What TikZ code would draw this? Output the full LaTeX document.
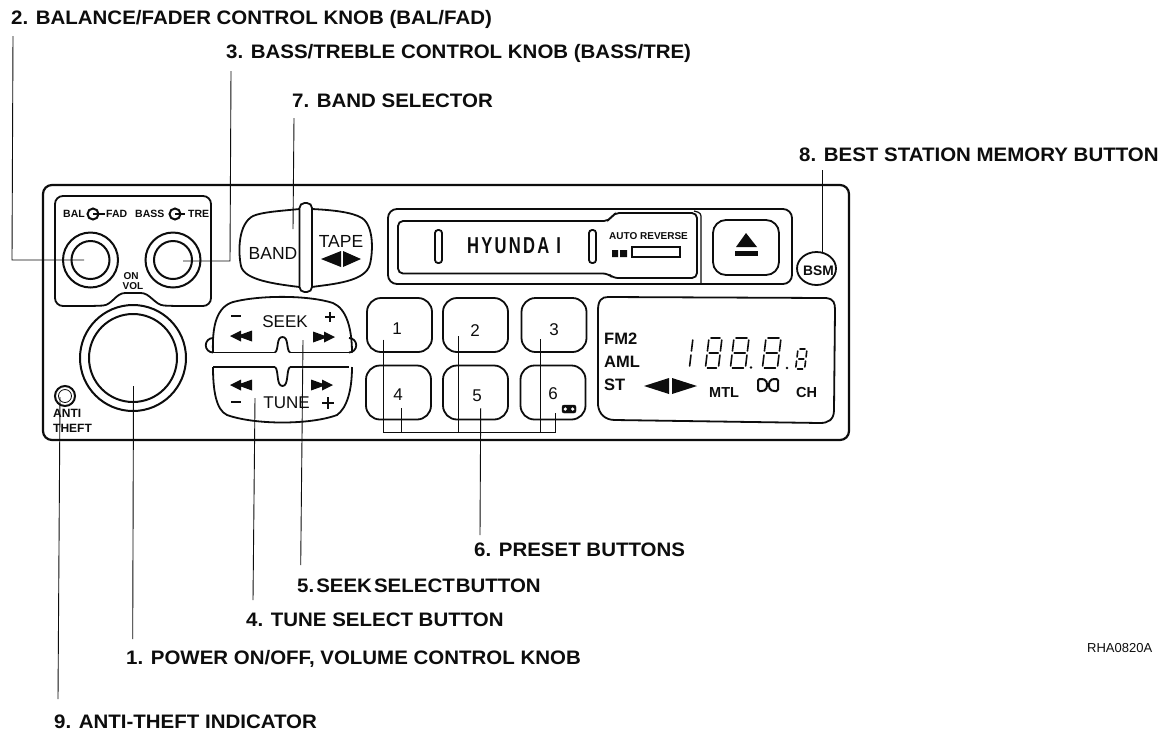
\documentclass[tikz,border=0pt]{standalone}
\usepackage{fontspec}
\setmainfont{Liberation Sans}
\newfontfamily\labfont[FakeStretch=1.05]{Liberation Sans}
\newfontfamily\hyfont[FakeStretch=0.72,LetterSpace=10]{Liberation Sans}
\usetikzlibrary{calc,shapes.geometric}
\definecolor{ink}{gray}{0.05}
\tikzset{
 lab/.style={anchor=base west,font=\labfont\bfseries\fontsize{19.5}{20}\selectfont,inner sep=0pt,text=ink},
 small/.style={inner sep=0pt,text=ink,font=\fontsize{#1}{#1}\selectfont},
 bsmall/.style={inner sep=0pt,text=ink,font=\bfseries\fontsize{#1}{#1}\selectfont},
 lead/.style={draw=ink,line width=0.9pt},
 lines/.style={draw=ink,line width=1.8pt},
 ring/.style={circle,draw=ink,line width=2pt,inner sep=0pt,minimum size=#1},
 seg/.style={draw=ink,line width=1.6pt,line cap=round},
}
% seven segment digit: top-left x, top y, width, height (slanted)
\newcommand{\digit}[4]{%
 \begin{scope}[shift={(#1,#2)},xslant=0.12]
  \draw[seg] (2,0)--(#3-2,0) (2,#4)--(#3-2,#4) (2,#4/2)--(#3-2,#4/2);
  \draw[seg] (0,2)--(0,#4/2-2) (#3,2)--(#3,#4/2-2) (0,#4/2+2)--(0,#4-2) (#3,#4/2+2)--(#3,#4-2);
 \end{scope}}
\newcommand{\arrowpair}[2]{\fill[ink] (#1,#2) -- ++(11,-5.5) -- ++(0,4) -- ++(11,-4) -- ++(0,11) -- ++(-11,-4) -- ++(0,4) -- cycle;}
\newcommand{\arrowpairR}[2]{\fill[ink] (#1,#2) -- ++(-11,-5.5) -- ++(0,4) -- ++(-11,-4) -- ++(0,11) -- ++(11,-4) -- ++(0,4) -- cycle;}
\begin{document}
\begin{tikzpicture}[x=1pt,y=-1pt]
\useasboundingbox (0,0) rectangle (1162,732);
\fill[white] (0,0) rectangle (1162,732);
% labels
\node[lab] (l2) at (11,24) {2. BALANCE/FADER CONTROL KNOB (BAL/FAD)};
\node[lab] (l3) at (226,58) {3. BASS/TREBLE CONTROL KNOB (BASS/TRE)};
\node[lab] (l7) at (292,107) {7. BAND SELECTOR};
\node[lab] (l8) at (799,161) {8. BEST STATION MEMORY BUTTON};
\node[lab] (l6) at (474,556) {6. PRESET BUTTONS};
\node[lab] (l5) at (297,592) {5.\hspace{2pt}SEEK\hspace{2pt}SELECT\hspace{1pt}BUTTON};
\node[lab] (l4) at (246,626) {4. TUNE SELECT BUTTON};
\node[lab] (l1) at (126,664) {1. POWER ON/OFF, VOLUME CONTROL KNOB};
\node[lab] (l9) at (54,728.5) {9. ANTI-THEFT INDICATOR};
\node[small=13,anchor=base west] (rha) at (1087,652) {RHA0820A};
% outer body
\draw[lines,line width=2.2pt,rounded corners=9pt] (43,185) rectangle (849,440);
% knob panel
\draw[lines,rounded corners=8pt] (55,196) -- (211,196) -- (211,306) -- (172,306) .. controls (155,305) and (150,293) .. (133,293) .. controls (116,293) and (112,305) .. (95,306) -- (55,306) -- cycle;
% knobs
\node[ring=55pt] (k2) at (90.5,260) {};
\node[ring=38pt] (k2i) at (90.5,260) {};
\node[ring=55pt] (k3) at (173,260) {};
\node[ring=38pt] (k3i) at (173,260) {};
\node[ring=106pt] (vol) at (133,358) {};
\node[ring=88pt] (voli) at (133,358) {};
\node[bsmall=10.5,anchor=west] (tbal) at (63,214) {BAL};
\node[ring=11pt] (c1) at (93,214) {};
\draw[ink,line width=1.6pt] (c1.center)--(105,214);
\node[bsmall=10.5,anchor=west] (tfad) at (106,214) {FAD};
\node[bsmall=10.5,anchor=west] (tbass) at (135,214) {BASS};
\node[ring=11pt] (c2) at (175,214) {};
\draw[ink,line width=1.6pt] (c2.center)--(185,214);
\node[bsmall=10.5,anchor=west] (ttre) at (188,214) {TRE};
\node[bsmall=10] (ton) at (131,276) {ON};
\node[bsmall=10] (tvol) at (133,286) {VOL};
% anti theft
\node[ring=20pt] (at) at (65,396) {};
\node[circle,draw=ink,line width=0.8pt,minimum size=13pt,inner sep=0pt] (ati) at (65,396) {};
\node[bsmall=12,anchor=west] (tanti) at (53,413) {ANTI};
\node[bsmall=12,anchor=west] (ttheft) at (53,428) {THEFT};
% band / tape
\draw[lines] (299.5,209) .. controls (280,211) and (262,212) .. (253,216) .. controls (238,224) and (238,252) .. (241,266) .. controls (244,280) and (275,284) .. (299.5,287);
\draw[lines] (312,209) .. controls (332,210) and (352,212) .. (362,218) .. controls (374,226) and (373,252) .. (370,264) .. controls (366,282) and (332,284) .. (312,287);
\draw[lines,rounded corners=5pt] (299.5,203) rectangle (312,292);
\node[small=17.5] (tband) at (273,253.7) {BAND};
\node[small=17.5] (ttape) at (341,241.5) {TAPE};
\fill[ink] (321,259) -- (341,251) -- (341,267) -- cycle (361,259) -- (343,251) -- (343,267) -- cycle;
% cassette
\draw[lines,rounded corners=9pt] (388,209) rectangle (792,284);
\draw[lines,rounded corners=5pt] (609,221) -- (398,221) -- (398,273.5) -- (608,273.5) -- (613,278) -- (697,278) -- (697,213) -- (614,213) -- cycle;
\draw[ink,line width=1.2pt,rounded corners=3pt] (694,211) -- (701,213) -- (701,284);
\draw[lines,rounded corners=3pt] (435,230) rectangle (442,263);
\draw[lines,rounded corners=3pt] (589,230) rectangle (596,263);
\node[inner sep=0pt,text=ink,font=\hyfont\bfseries\fontsize{23}{23}\selectfont] (thy) at (514,245.5) {HYUNDA I};
\node[bsmall=10,anchor=west] (tauto) at (609,236) {AUTO REVERSE};
\fill[ink] (612,250) rectangle (618,257) (620,250) rectangle (627,257);
\draw[ink,line width=1.4pt] (632,247) rectangle (680,257);
\draw[lines,rounded corners=13pt] (713,220) rectangle (779,275);
\fill[ink] (746,233) -- (757,247) -- (736,247) -- cycle;
\fill[ink] (735,251) rectangle (758,256);
% BSM
\node[ellipse,draw=ink,line width=1.8pt,minimum width=39pt,minimum height=33pt,inner sep=0pt] (bsm) at (816.5,268.5) {};
\node[bsmall=13.8] (tbsm) at (818.5,270.5) {BSM};
% seek tune
\draw[lines] (213,352.5) .. controls (212,325) and (217,307) .. (233,302) .. controls (260,295) and (308,295) .. (333,303) .. controls (347,309) and (352,330) .. (352,352.5);
\draw[lines] (213,367) .. controls (213,390) and (216,410) .. (227,415) .. controls (255,425) and (310,425) .. (337,415) .. controls (347,408) and (352,390) .. (352,367);
\draw[lines] (275,352.5) .. controls (279,350) and (276,337) .. (282.5,337) .. controls (289,337) and (286,350) .. (290,352.5);
\draw[lines] (275,367) .. controls (279,370) and (276,386) .. (282.5,386) .. controls (289,386) and (286,370) .. (290,367);
\draw[lines] (213,352.5) -- (275,352.5) (290,352.5) -- (349,352.5) (213,367) -- (275,367) (290,367) -- (349,367);
\draw[lines] (213,352.5) arc[start angle=90,end angle=270,radius=7.25];
\draw[lines] (349,352.5) arc[start angle=90,end angle=-90,radius=7.25];
\node[small=17] (tseek) at (285,322) {SEEK};
\node[small=17] (ttune) at (286.5,403) {TUNE};
\draw[ink,line width=1.8pt] (231,316)--(241,316) (325,317)--(335,317) (330,312)--(330,322) (231,402)--(241,402) (322,403)--(334,403) (328,397)--(328,409);
\arrowpair{230}{336}
\arrowpairR{335}{337}
\arrowpair{230}{385}
\arrowpairR{333}{385}
% presets
\tikzset{preset/.style={draw=ink,line width=1.8pt,rounded corners=14pt,minimum width=65pt,minimum height=54pt,inner sep=0pt}}
\node[preset] (b1) at (399.5,325) {};
\node[preset] (b2) at (475.5,325) {};
\node[preset] (b3) at (554,325) {};
\node[preset] (b4) at (398.5,392.5) {};
\node[preset] (b5) at (475.5,392.5) {};
\node[preset] (b6) at (553,392.5) {};
\node[small=17] (n1) at (397,329) {1};
\node[small=17] (n2) at (475,331) {2};
\node[small=17] (n3) at (554,330) {3};
\node[small=17] (n4) at (398,395) {4};
\node[small=17] (n5) at (477,396) {5};
\node[small=17] (n6) at (553,394) {6};
\node[draw=ink,fill=ink,rounded corners=2pt,minimum width=14pt,minimum height=8pt,inner sep=0pt] (dolby) at (569,409) {};
\fill[white] (565.3,409) circle (1.8pt) (572.7,409) circle (1.8pt);
% display
\draw[lines] (608,297) -- (826,298) .. controls (834,299) and (835,303) .. (835,310) -- (834,410) .. controls (834,420) and (828,423) .. (820,423) -- (615,420) .. controls (605,420) and (599,414) .. (598,405) -- (598,310) .. controls (598,300) and (602,297) .. (608,297);
\node[bsmall=16.5,anchor=base west] (tfm) at (604,344) {FM2};
\node[bsmall=16.5,anchor=base west] (taml) at (604,367) {AML};
\node[bsmall=16.5,anchor=base west] (tst) at (604,390) {ST};
\fill[ink] (644,386) -- (669,378) -- (669,394) -- cycle (697,386) -- (672,378) -- (672,394) -- cycle;
\node[bsmall=14.5,anchor=base west] (tmtl) at (709,397) {MTL};
\node[bsmall=14.5,anchor=base west] (tch) at (796,397) {CH};
% dolby symbol in display
\draw[ink,line width=2pt,rounded corners=1.5pt] (758,379) -- (763,379) .. controls (768,381) and (768,389) .. (763,391) -- (758,391) -- cycle;
\draw[ink,line width=2pt,rounded corners=1.5pt] (778,379) -- (773,379) .. controls (768,381) and (768,389) .. (773,391) -- (778,391) -- cycle;
% digits
\begin{scope}[shift={(691,338)},xslant=0.12]
 \draw[seg] (2,2)--(2,13) (2,17)--(2,28);
\end{scope}
\digit{709}{338}{13}{30}
\digit{734}{338}{15}{30}
\digit{766}{338}{15}{30}
\digit{798}{349}{9}{20}
\fill[ink] (751,367.5) circle (1.4pt) (787,368) circle (1.4pt);
% leader ends
\coordinate (e2) at (13,36); \coordinate (e2b) at (12,260); \coordinate (k2t) at (84,260);
\coordinate (e3) at (231,71); \coordinate (e3b) at (230,261); \coordinate (k3t) at (183,261);
\coordinate (e7) at (294,118); \coordinate (b7) at (293,229);
\coordinate (e8) at (822,170); \coordinate (b8) at (822,252);
\coordinate (e1) at (133.5,386); \coordinate (e1b) at (132.7,639);
\coordinate (e4) at (255,398); \coordinate (e4b) at (253,600);
\coordinate (e5) at (303,340); \coordinate (e5b) at (300.7,565);
\coordinate (e9) at (60,397); \coordinate (e9b) at (58,699);
\coordinate (e6) at (480.7,408); \coordinate (e6b) at (480,535);
\coordinate (p1) at (383,339.5); \coordinate (p1b) at (383,432);
\coordinate (p4) at (401.7,408); \coordinate (p4b) at (401.7,432);
\coordinate (p2) at (458,336); \coordinate (p2b) at (458,432);
\coordinate (p3) at (540,339); \coordinate (p3b) at (540,432);
\coordinate (p6) at (555,413); \coordinate (p6b) at (555,432);
\draw[lead] (e2) -- (e2b) -- (k2t);
\draw[lead] (e3) -- (e3b) -- (k3t);
\draw[lead] (e7) -- (b7);
\draw[lead] (e8) -- (b8);
\draw[lead] (e1) -- (e1b);
\draw[lead] (e4) -- (e4b);
\draw[lead] (e5) -- (e5b);
\draw[lead] (e9) -- (e9b);
\draw[lead] (e6) -- (e6b);
\draw[lead] (p1) -- (p1b) -- (p6b) -- (p6);
\draw[lead] (p4) -- (p4b);
\draw[lead] (p2) -- (p2b);
\draw[lead] (p3) -- (p3b);
\end{tikzpicture}
\end{document}
